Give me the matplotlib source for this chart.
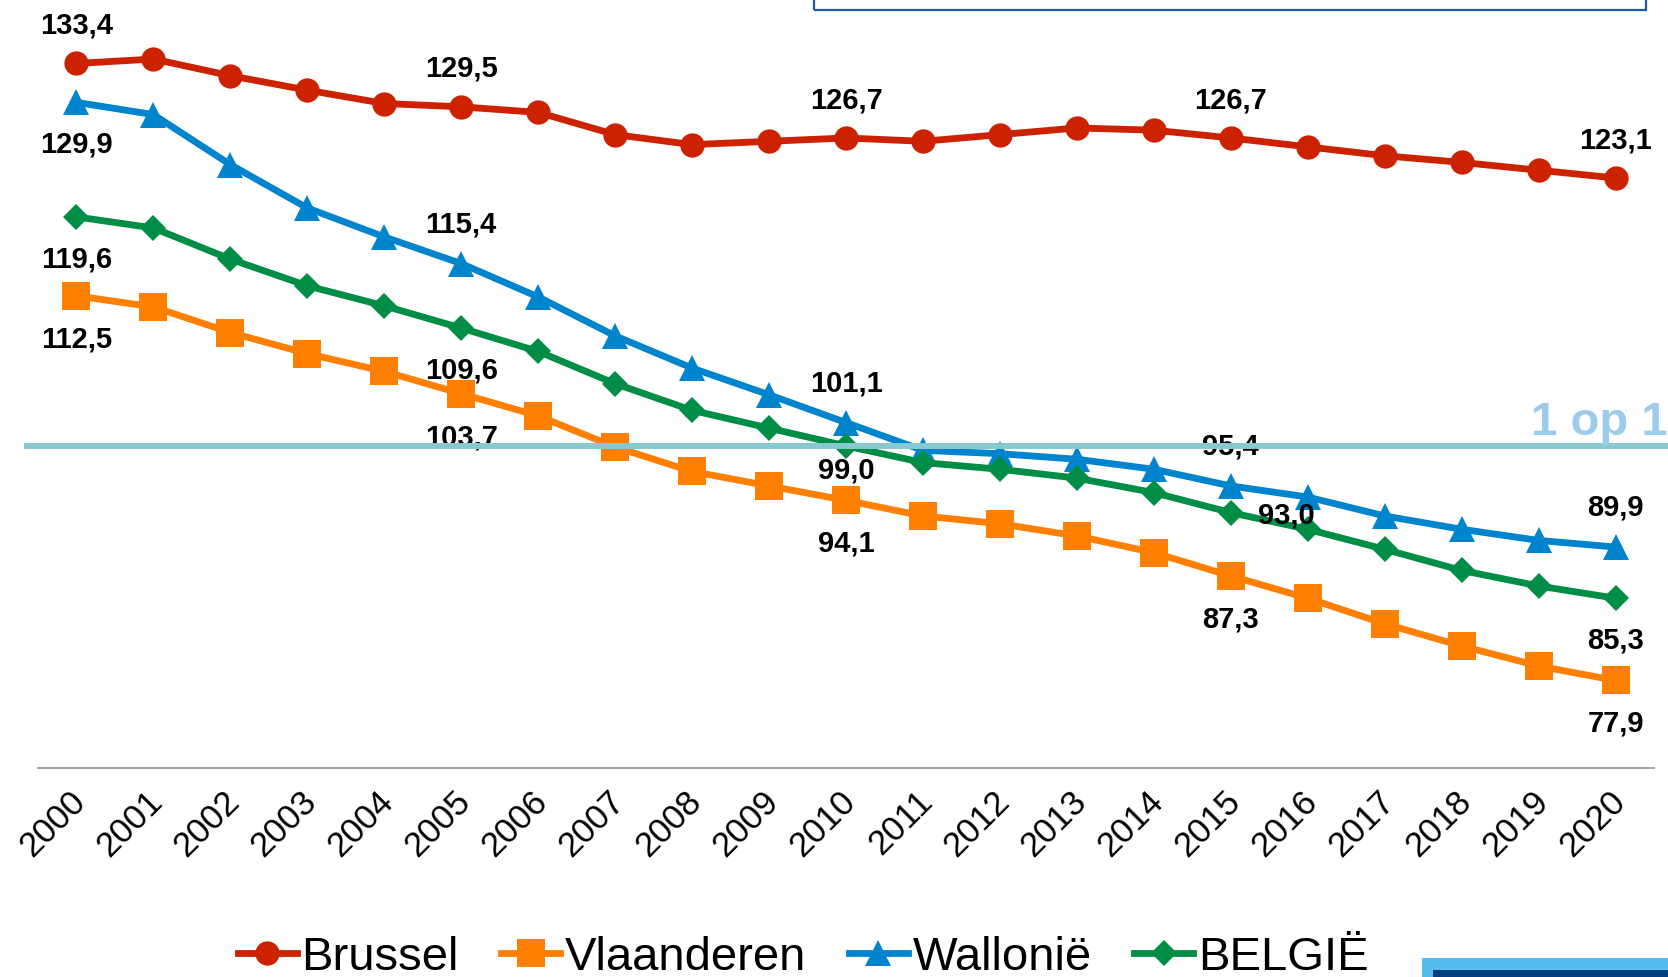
import matplotlib
matplotlib.use("Agg")
import matplotlib.pyplot as plt
from matplotlib.patches import Rectangle
from matplotlib.transforms import ScaledTranslation

plt.rcParams['font.family'] = ['Liberation Sans', 'DejaVu Sans']

# ---------------- data ----------------
years = [str(y) for y in range(2000, 2021)]
brussel = [133.4, 133.8, 132.3, 131.0, 129.8, 129.5, 129.0, 127.0, 126.1, 126.4, 126.7,
           126.4, 127.0, 127.6, 127.4, 126.7, 125.9, 125.1, 124.5, 123.8, 123.1]
vlaanderen = [112.5, 111.5, 109.2, 107.3, 105.7, 103.7, 101.7, 98.9, 96.7, 95.4, 94.1,
              92.7, 92.0, 90.9, 89.4, 87.3, 85.3, 83.0, 81.0, 79.2, 77.9]
wallonie = [129.9, 128.8, 124.3, 120.4, 117.8, 115.4, 112.4, 108.9, 106.0, 103.6, 101.1,
            98.6, 98.3, 97.8, 96.9, 95.4, 94.4, 92.7, 91.5, 90.5, 89.9]
belgie = [119.6, 118.6, 115.8, 113.4, 111.6, 109.6, 107.5, 104.6, 102.2, 100.6, 99.0,
          97.5, 96.9, 96.1, 94.8, 93.0, 91.5, 89.7, 87.8, 86.4, 85.3]
series_names = ["Brussel", "Vlaanderen", "Wallonië", "BELGIË"]
reference_level = 99.0
reference_label = "1 op 1"
label_idx = [0, 5, 10, 15, 20]

# ---------------- styles ----------------
colors = {"Brussel": "#CC2200", "Vlaanderen": "#FF7F00", "Wallonië": "#0084CD", "BELGIË": "#008D46"}
markers = {"Brussel": ("o", 17.5), "Vlaanderen": ("s", 19.5), "Wallonië": ("^", 18.5), "BELGIË": ("D", 13.2)}
offsets = {
    "Brussel": [(0, 28), (0, 28), (0, 28), (0, 28), (0, 28)],
    "Wallonië": [(0, -29.5), (0, 29), (0, 29), (0, 29), (0, 29)],
    "BELGIË": [(0, -30), (0, -30), (0, -17), (40, -1.5), (0, -30)],
    "Vlaanderen": [(0, -30.5), (0, -30.5), (0, -30.5), (0, -30.5), (0, -30.5)],
}

W, H = 1668, 978
fig = plt.figure(figsize=(W / 100, H / 100), dpi=100)
ax_bottom_px = 769.3
ax = fig.add_axes([38 / W, (H - ax_bottom_px) / H, 1616 / W, ax_bottom_px / H])
ax.set_xlim(-0.5, 20.5)
ax.set_ylim(70, 139.2)

data = {"Brussel": brussel, "Vlaanderen": vlaanderen, "Wallonië": wallonie, "BELGIË": belgie}
x = list(range(len(years)))
handles = []
for name in series_names:
    m, ms = markers[name]
    ln, = ax.plot(x, data[name], color=colors[name], lw=4.9, marker=m, markersize=ms,
                  markeredgewidth=0, zorder=2, clip_on=False, solid_joinstyle='round')
    handles.append(ln)

for name in ["Brussel", "Wallonië", "BELGIË", "Vlaanderen"]:
    vals = data[name]
    for k, i in enumerate(label_idx):
        v = vals[i]
        txt = f"{v:.1f}".replace(".", ",")
        dx, dy = offsets[name][k]
        ax.annotate(txt, (i, v), xytext=(dx, dy), textcoords="offset points",
                    ha="center", va="center", fontsize=21, fontweight="bold",
                    color="black", zorder=4, annotation_clip=False)

# reference line "1 op 1"
ax.axhline(reference_level, xmin=(26.6 - 38) / 1616, xmax=(1668 - 38) / 1616,
           color="#86CACF", lw=4.3, zorder=5, clip_on=False)
fig.text(1.0, (H - 435) / H, reference_label, ha="right", va="baseline",
         fontsize=34, fontweight="bold", color="#9DCBEB")

# axes styling
for s in ["top", "right", "left"]:
    ax.spines[s].set_visible(False)
ax.spines["bottom"].set_color("#A6A6A6")
ax.spines["bottom"].set_linewidth(1.5)
ax.set_yticks([])
ax.set_xticks(x)
ax.set_xticklabels(years, rotation=45, ha="right", fontsize=25)
ax.tick_params(axis="x", length=0, pad=11)
shift = ScaledTranslation(16 / 100, 0, fig.dpi_scale_trans)
for lab in ax.get_xticklabels():
    lab.set_transform(lab.get_transform() + shift)

# legend
fig.legend(handles, series_names, loc="center", bbox_to_anchor=(0.4815, 0.02),
           ncol=4, frameon=False, fontsize=34, handlelength=1.25, handletextpad=0.1,
           columnspacing=0.9, borderpad=0, borderaxespad=0)

# decorative boxes
fig.patches.append(Rectangle((814 / W, (H - 11) / H), (1646 - 814) / W, 0.1,
                             transform=fig.transFigure, fill=False,
                             edgecolor="#1F5C99", lw=1.6))
fig.patches.append(Rectangle((1422 / W, 0), 1, (H - 959) / H, transform=fig.transFigure,
                             facecolor="#52BCEC", edgecolor="none"))
fig.patches.append(Rectangle((1433 / W, 0), 1, (H - 971) / H, transform=fig.transFigure,
                             facecolor="#003F7F", edgecolor="none"))

fig.savefig("out.png", dpi=100)
